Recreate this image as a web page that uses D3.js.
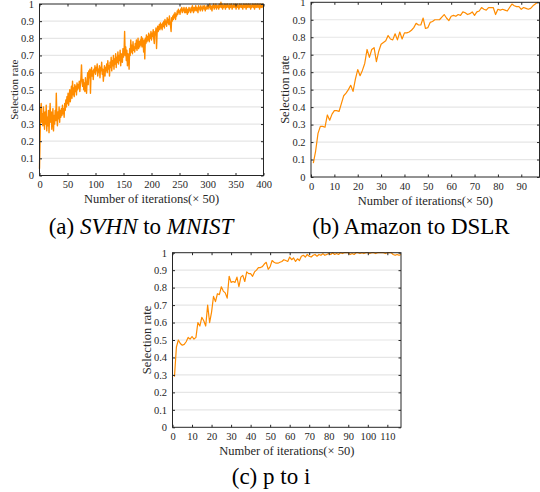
<!DOCTYPE html>
<meta charset="utf-8">
<body style="margin:0">
<script src="https://cdn.jsdelivr.net/npm/d3@7"></script>
<script>

// (a) SVHN to MNIST, one value per iteration step 0..400
var svhnRate = [
 0.04,0.21,0.38,0.42,0.31,0.36,0.29,0.40,0.33,0.27,0.37,0.30,0.41,0.26,0.34,0.29,0.38,0.25,0.35,0.42,
 0.31,0.37,0.27,0.33,0.39,0.26,0.35,0.30,0.38,0.32,0.48,0.34,0.29,0.37,0.33,0.40,0.31,0.38,0.34,0.39,
 0.35,0.41,0.36,0.39,0.34,0.42,0.38,0.44,0.40,0.46,0.42,0.48,0.41,0.45,0.50,0.43,0.47,0.52,0.45,0.55,
 0.47,0.51,0.46,0.53,0.49,0.52,0.47,0.54,0.50,0.53,0.51,0.55,0.49,0.53,0.57,0.645,0.55,0.52,0.56,0.50,
 0.54,0.49,0.57,0.52,0.48,0.55,0.60,0.53,0.61,0.57,0.62,0.48,0.59,0.63,0.58,0.61,0.56,0.62,0.60,0.64,
 0.59,0.63,0.61,0.65,0.58,0.62,0.60,0.64,0.57,0.63,0.61,0.66,0.59,0.62,0.55,0.60,0.64,0.58,0.63,0.61,
 0.65,0.60,0.67,0.62,0.64,0.58,0.66,0.63,0.69,0.61,0.67,0.64,0.70,0.62,0.68,0.65,0.71,0.63,0.69,0.66,
 0.72,0.65,0.70,0.67,0.73,0.64,0.71,0.68,0.66,0.74,0.69,0.72,0.84,0.70,0.75,0.67,0.73,0.64,0.71,0.69,
 0.62,0.74,0.70,0.79,0.72,0.76,0.71,0.78,0.73,0.75,0.72,0.77,0.74,0.79,0.73,0.76,0.80,0.74,0.78,0.75,
 0.79,0.76,0.81,0.75,0.80,0.77,0.72,0.79,0.68,0.80,0.77,0.82,0.78,0.81,0.79,0.83,0.78,0.82,0.80,0.84,
 0.79,0.83,0.81,0.85,0.80,0.77,0.84,0.82,0.86,0.74,0.83,0.87,0.84,0.86,0.88,0.85,0.89,0.86,0.88,0.85,
 0.89,0.87,0.90,0.86,0.91,0.88,0.90,0.87,0.92,0.89,0.91,0.88,0.93,0.90,0.87,0.84,0.92,0.90,0.93,0.91,
 0.94,0.92,0.95,0.91,0.94,0.93,0.96,0.94,0.97,0.95,0.96,0.94,0.97,0.96,0.98,0.95,0.97,0.96,0.98,0.95,
 0.97,0.95,0.98,0.96,0.94,0.97,0.95,0.98,0.96,0.97,0.95,0.98,0.96,0.99,0.97,0.95,0.98,0.96,0.97,0.99,
 0.96,0.98,0.97,0.95,0.99,0.97,0.98,0.96,0.99,0.97,0.98,0.96,0.99,0.98,0.97,0.99,0.96,0.98,0.97,0.99,
 0.98,0.97,0.99,0.98,1.00,0.97,0.99,0.98,0.96,0.99,0.98,1.00,0.97,0.99,0.98,1.00,0.97,0.99,0.98,0.99,
 0.97,1.00,0.98,0.99,1.01,0.98,1.00,0.97,0.99,0.98,1.00,0.99,0.97,1.00,0.98,0.99,1.00,0.98,0.99,0.97,
 1.00,0.98,0.99,1.00,0.97,0.99,0.98,1.00,0.99,0.98,1.00,0.97,0.99,1.00,0.98,0.99,0.97,1.00,0.98,0.99,
 1.00,0.98,0.99,0.97,1.00,0.99,0.98,1.00,0.99,0.97,1.00,0.98,0.99,1.00,0.98,0.99,1.00,0.97,0.99,0.98,
 1.00,0.99,0.98,1.00,0.97,0.99,1.00,0.98,0.99,1.00,0.98,0.99,1.00,0.97,0.99,1.00,0.98,0.99,1.00,0.98,0.99
];

// (b) Amazon to DSLR, iterations 1..97
var amazonRate = [
 0.08,0.15,0.25,0.29,0.29,0.285,0.355,0.325,0.36,0.38,
 0.38,0.375,0.42,0.465,0.48,0.50,0.525,0.49,0.56,0.615,
 0.58,0.61,0.65,0.73,0.685,0.73,0.74,0.66,0.72,0.76,
 0.77,0.78,0.81,0.79,0.785,0.82,0.785,0.83,0.79,0.825,
 0.825,0.83,0.84,0.855,0.88,0.87,0.87,0.91,0.85,0.855,
 0.885,0.89,0.90,0.90,0.90,0.915,0.93,0.91,0.895,0.92,
 0.925,0.92,0.93,0.925,0.945,0.94,0.93,0.935,0.945,0.925,
 0.945,0.95,0.97,0.96,0.955,0.97,0.97,0.97,0.93,0.96,
 0.955,0.96,0.955,0.95,0.97,0.99,0.98,0.975,0.975,0.96,
 0.97,0.965,0.96,0.965,0.98,0.99,1.00
];

// (c) p to i, iterations 1..117
var ptoiRate = [
 0.29,0.46,0.50,0.48,0.47,0.475,0.49,0.515,0.505,0.52,
 0.505,0.515,0.60,0.58,0.63,0.61,0.58,0.70,0.60,0.66,
 0.75,0.72,0.765,0.76,0.805,0.78,0.77,0.74,0.865,0.83,
 0.835,0.83,0.86,0.805,0.86,0.87,0.835,0.89,0.88,0.88,
 0.865,0.89,0.90,0.915,0.915,0.92,0.935,0.945,0.905,0.92,
 0.955,0.945,0.94,0.94,0.945,0.95,0.96,0.955,0.95,0.975,
 0.96,0.97,0.95,0.965,0.955,0.98,0.985,0.975,0.99,0.98,
 0.975,0.985,0.99,0.98,0.99,0.985,0.995,0.985,0.99,0.995,
 0.99,1.00,0.99,0.995,0.99,1.00,0.995,1.00,1.00,1.00,
 0.99,0.995,0.99,1.00,1.00,0.995,1.00,0.995,1.00,1.00,
 0.995,1.00,1.00,0.995,1.00,1.00,1.00,1.00,0.995,1.00,
 1.00,1.00,0.99,0.985,0.99,0.985,0.99
];

var yTicks = [0,0.1,0.2,0.3,0.4,0.5,0.6,0.7,0.8,0.9,1];
var svhnTicks = [0,50,100,150,200,250,300,350,400];
var amazonTicks = [0,10,20,30,40,50,60,70,80,90];
var ptoiTicks = [0,10,20,30,40,50,60,70,80,90,100,110];

var fontName = "'Liberation Serif', 'Times New Roman', serif";
var axisColor = "#262626";

var svg = d3.select("body").append("svg")
    .attr("width", 540)
    .attr("height", 492)
    .style("font-family", fontName);

function setFont(sel, size, color) {
    sel.style("font-family", fontName)
        .style("font-size", size)
        .style("fill", color);
}

function drawPanel(p) {
    var x = d3.scaleLinear().domain([0, p.xMax]).range([p.left, p.right]);
    var y = d3.scaleLinear().domain([0, 1]).range([p.bottom, p.top]);
    var g = svg.append("g");

    g.append("g")
        .selectAll("line").data(yTicks.slice(1, -1)).enter().append("line")
        .attr("x1", p.left).attr("x2", p.right)
        .attr("y1", function(d) { return y(d); })
        .attr("y2", function(d) { return y(d); })
        .attr("stroke", "#e6e6e6").attr("stroke-width", 1.2);

    var line = d3.line()
        .x(function(d, i) { return x(i + p.x0); })
        .y(function(d) { return y(d); });
    g.append("path").attr("d", line(p.values))
        .attr("fill", "none").attr("stroke", "#ff8c00")
        .attr("stroke-width", p.lineWidth).attr("stroke-linejoin", "round");

    var axes = [
        g.append("g").attr("transform", "translate(0," + p.bottom + ")")
            .call(d3.axisBottom(x).tickValues(p.ticks).tickSize(-2.5).tickPadding(5.5).tickSizeOuter(0)),
        g.append("g").attr("transform", "translate(0," + p.top + ")")
            .call(d3.axisTop(x).tickValues(p.ticks).tickSize(-2.5).tickFormat("").tickSizeOuter(0)),
        g.append("g").attr("transform", "translate(" + p.left + ",0)")
            .call(d3.axisLeft(y).tickValues(yTicks).tickSize(-2.5).tickPadding(5.5).tickSizeOuter(0)
                .tickFormat(function(d) { return String(+d.toFixed(1)); })),
        g.append("g").attr("transform", "translate(" + p.right + ",0)")
            .call(d3.axisRight(y).tickValues(yTicks).tickSize(-2.5).tickFormat("").tickSizeOuter(0))
    ];
    axes.forEach(function(a) {
        a.attr("font-family", null);
        a.select(".domain").remove();
        a.selectAll("line").attr("stroke", axisColor);
        setFont(a.selectAll("text"), "10.5px", axisColor);
    });

    g.append("rect")
        .attr("x", p.left).attr("y", p.top)
        .attr("width", p.right - p.left).attr("height", p.bottom - p.top)
        .attr("fill", "none").attr("stroke", axisColor).attr("stroke-width", 1);

    setFont(g.append("text")
        .attr("text-anchor", "middle")
        .attr("x", (p.left + p.right) / 2).attr("y", p.bottom + 27.5)
        .text("Number of iterations(\u00d7 50)"), "12.5px", axisColor);
    setFont(g.append("text")
        .attr("text-anchor", "middle")
        .attr("transform", "translate(" + p.yLabelX + "," + (p.top + p.bottom) / 2 + ") rotate(-90)")
        .text("Selection rate"), p.yLabelSize, axisColor);

    var cap = g.append("text")
        .attr("text-anchor", "middle")
        .attr("x", p.capX).attr("y", p.capY);
    setFont(cap, "23px", "#000");
    p.caption.forEach(function(c) {
        cap.append("tspan").style("font-style", c[1] ? "italic" : "normal").text(c[0]);
    });
}

drawPanel({values: svhnRate, x0: 0, xMax: 400, ticks: svhnTicks, lineWidth: 1.4,
    left: 39.5, right: 263.5, top: 4, bottom: 175.5, yLabelX: 17.5, yLabelSize: "11px",
    capX: 141, capY: 234, caption: [["(a) ", false], ["SVHN", true], [" to ", false], ["MNIST", true]]});
drawPanel({values: amazonRate, x0: 1, xMax: 97.8, ticks: amazonTicks, lineWidth: 1.2,
    left: 311, right: 539.5, top: 2.3, bottom: 177, yLabelX: 289, yLabelSize: "12.5px",
    capX: 411, capY: 234, caption: [["(b) Amazon to DSLR", false]]});
drawPanel({values: ptoiRate, x0: 1, xMax: 117, ticks: ptoiTicks, lineWidth: 1.2,
    left: 172.5, right: 401, top: 252.7, bottom: 427.3, yLabelX: 150.5, yLabelSize: "12.5px",
    capX: 271, capY: 484, caption: [["(c) p to i", false]]});

</script>
</body>
